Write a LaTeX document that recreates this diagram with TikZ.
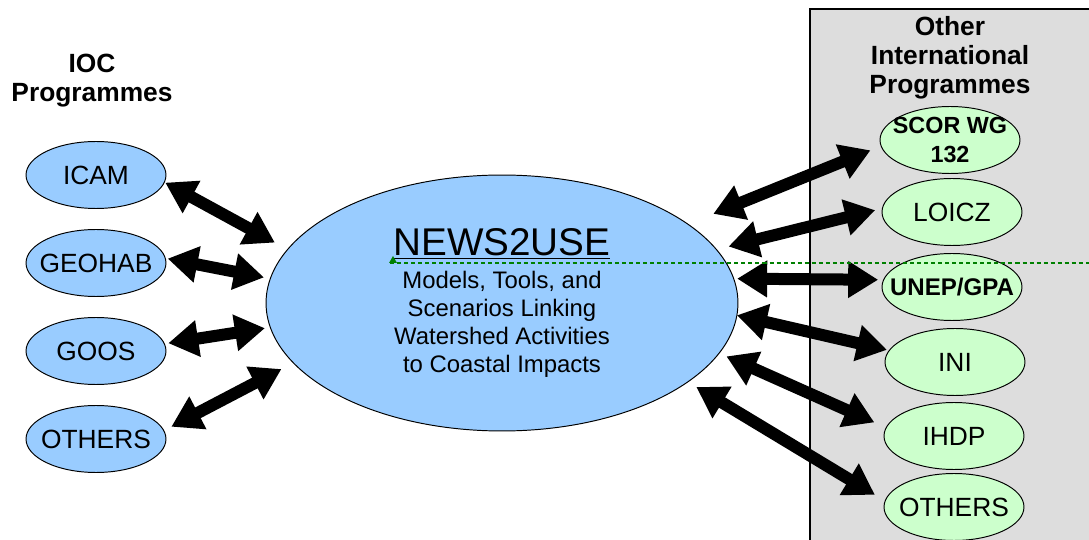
\documentclass[tikz,border=0pt]{standalone}
\usepackage{fontspec}
\setmainfont{Liberation Sans}
\usetikzlibrary{arrows.meta,shapes.geometric}
\definecolor{iocblue}{HTML}{99CCFF}
\definecolor{othergreen}{HTML}{CCFFCC}
\definecolor{boxgray}{HTML}{DDDDDD}
\definecolor{guidegreen}{HTML}{008000}
\begin{document}
\begin{tikzpicture}[x=0.02cm,y=-0.02cm,
  prog/.style={draw,ellipse,line width=0.55pt,minimum width=2.8cm,minimum height=1.34cm,
    inner xsep=-8pt,inner ysep=0pt,outer sep=0pt,align=center,font=\fontsize{15}{17}\selectfont},
  ioc/.style={prog,fill=iocblue},
  other/.style={prog,fill=othergreen},
  heading/.style={align=center,font=\bfseries\fontsize{15}{16.5}\selectfont},
  link/.style={line width=0.24cm,{Triangle[length=0.6cm,width=0.7cm]}-{Triangle[length=0.6cm,width=0.7cm]}}]
\clip (0,0) rectangle (1089,540);

% grey panel behind the other programmes
\filldraw[fill=boxgray,draw=black,line width=0.7pt] (810,9) rectangle (1120,580);

\node[heading] (iochead) at (92,81) {IOC\\Programmes};
\node[heading] (otherhead) at (950,58) {Other\\International\\Programmes};

\node[draw,ellipse,fill=iocblue,line width=0.55pt,minimum width=9.44cm,minimum height=5.12cm,
  inner sep=0pt,outer sep=0pt,align=center,font=\fontsize{13.6}{16}\selectfont] (news) at (502,303)
  {{\fontsize{22}{26}\selectfont\underline{NEWS2USE}}\\[2.7pt]
   Models, Tools, and\\Scenarios Linking\\Watershed Activities\\to Coastal Impacts};

\node[ioc] (icam) at (96,175) {ICAM};
\node[ioc] (geohab) at (96,263) {GEOHAB};
\node[ioc] (goos) at (96,351) {GOOS};
\node[ioc] (othersl) at (96,439) {OTHERS};

\node[other,font=\bfseries\fontsize{13.3}{16.5}\selectfont] (scor) at (950,140) {SCOR WG\\132};
\node[other] (loicz) at (952,212) {LOICZ};
\node[other,font=\bfseries\fontsize{13.7}{16}\selectfont] (unep) at (952,287) {UNEP/GPA};
\node[other] (ini) at (955,362) {INI};
\node[other] (ihdp) at (954,436) {IHDP};
\node[other] (othersr) at (954,507) {OTHERS};

% two-way links to NEWS2USE
\foreach \a/\aa/\bb/\s/\t in {icam/-6.6/166/0.02/0.29, geohab/4/174.5/0.05/0.13,
    goos/6.3/-174.7/0.08/0.11, othersl/7.5/-164.2/0.17/0.27,
    scor/185.7/23.7/0.23/0.55, loicz/177/14.4/0.15/0.25, unep/174.6/6.1/0.11/0.07,
    ini/170/-3.2/0.05/0, ihdp/173.7/-13.9/0.26/0.16, othersr/175/-23.3/0.24/0.2}
  \draw[link,shorten <=\s cm,shorten >=\t cm] (\a.\aa) -- (news.\bb);

\coordinate (guidestart) at (390,263);
\coordinate (guideend) at (1089,263);
\draw[guidegreen,line width=1.1pt,dash pattern=on 2.3pt off 1.7pt] (guidestart) -- (guideend);
\fill[guidegreen] (389,263) -- (397,263) -- (393,256) -- cycle;
\end{tikzpicture}
\end{document}
